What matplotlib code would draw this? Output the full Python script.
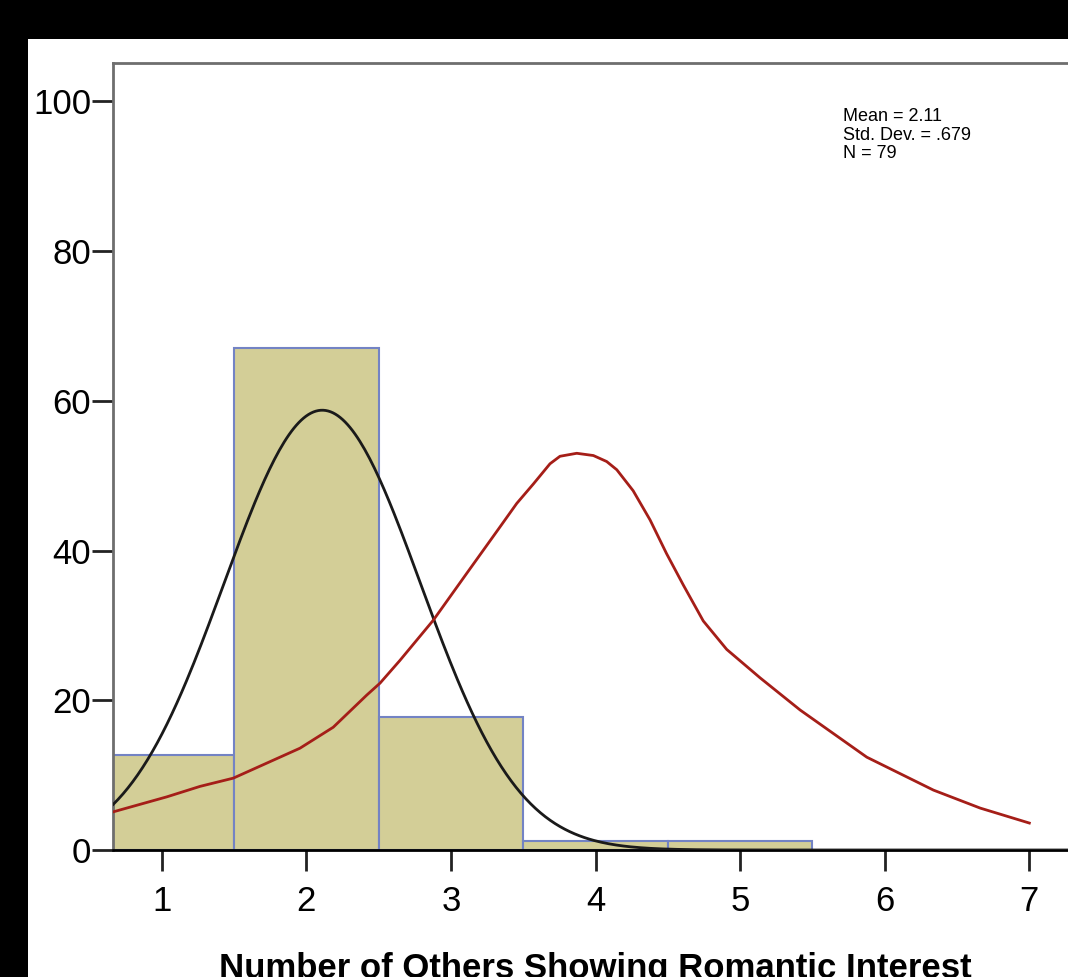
import numpy as np
import matplotlib.pyplot as plt
from matplotlib.patches import Rectangle

# counts per number of others (1..5), shown as percent of N
values = [1, 2, 3, 4, 5]
counts = [10, 53, 14, 1, 1]
MEAN = 2.11
SD = 0.679
N = 79

red_x = [0.665, 1.035, 1.265, 1.495, 1.956, 2.186, 2.418, 2.510, 2.646, 2.878,
         3.107, 3.337, 3.455, 3.570, 3.685, 3.754, 3.870, 3.985, 4.077, 4.147,
         4.260, 4.377, 4.491, 4.607, 4.745, 4.907, 5.138, 5.415, 5.876, 6.337,
         6.660, 7.0]
red_y = [5.1, 7.1, 8.5, 9.6, 13.6, 16.4, 20.7, 22.3, 25.3, 30.7,
         36.9, 43.1, 46.3, 48.9, 51.6, 52.6, 53.0, 52.7, 51.9, 50.8,
         48.0, 44.1, 39.6, 35.4, 30.6, 26.8, 23.0, 18.7, 12.4, 8.0,
         5.6, 3.6]

W, H = 1068, 977
fig = plt.figure(figsize=(W / 100, H / 100), dpi=100)
fig.patch.set_facecolor('black')
fig.add_artist(Rectangle((28 / W, 0), 1 - 28 / W, (H - 39) / H,
                         transform=fig.transFigure, facecolor='white',
                         edgecolor='none', zorder=0))

font = ['Liberation Sans Narrow', 'Liberation Sans', 'DejaVu Sans']

xmin, xmax = 0.665, 7.4
px_per_unit = 144.6
ax = fig.add_axes([113.3 / W, (H - 850) / H,
                   (xmax - xmin) * px_per_unit / W, (850 - 63.3) / H])
ax.set_facecolor('white')

perc = [100 * c / N for c in counts]
ax.bar(values, perc, width=1.0, color='#D3CE97', edgecolor='#7383C4',
       linewidth=1.5, zorder=2)

xs = np.linspace(xmin, xmax, 400)
normal = 100 * np.exp(-0.5 * ((xs - MEAN) / SD) ** 2) / (SD * np.sqrt(2 * np.pi))
ax.plot(xs, normal, color='#1a1a1a', lw=2.0, zorder=3)
ax.plot(red_x, red_y, color='#A51E18', lw=2.0, zorder=4, solid_joinstyle='round')

ax.set_xlim(xmin, xmax)
ax.set_ylim(0, 105.1)
ax.set_xticks(range(1, 8))
ax.set_yticks(range(0, 101, 20))

for s in ['left', 'top']:
    ax.spines[s].set_color('#6e6e6e')
    ax.spines[s].set_linewidth(2)
ax.spines['bottom'].set_color('black')
ax.spines['bottom'].set_linewidth(2)
ax.spines['right'].set_visible(False)

ax.tick_params(axis='both', direction='out', length=15, width=2, color='#222222',
               labelsize=25)
ax.tick_params(axis='x', pad=10)
ax.tick_params(axis='y', pad=1)
for lab in ax.get_xticklabels() + ax.get_yticklabels():
    lab.set_family(font)

ax.set_xlabel('Number of Others Showing Romantic Interest', family=font,
              fontsize=25, fontweight='bold')
ax.xaxis.set_label_coords((595 - 113.3) / ((xmax - xmin) * px_per_unit), -0.13)

fig.text(843 / W, 1 - 108 / H, 'Mean = 2.11\nStd. Dev. = .679\nN = 79',
         family=font, fontsize=13, va='top', ha='left', linespacing=1.12)

fig.savefig('out.png', dpi=100, facecolor=fig.get_facecolor())
